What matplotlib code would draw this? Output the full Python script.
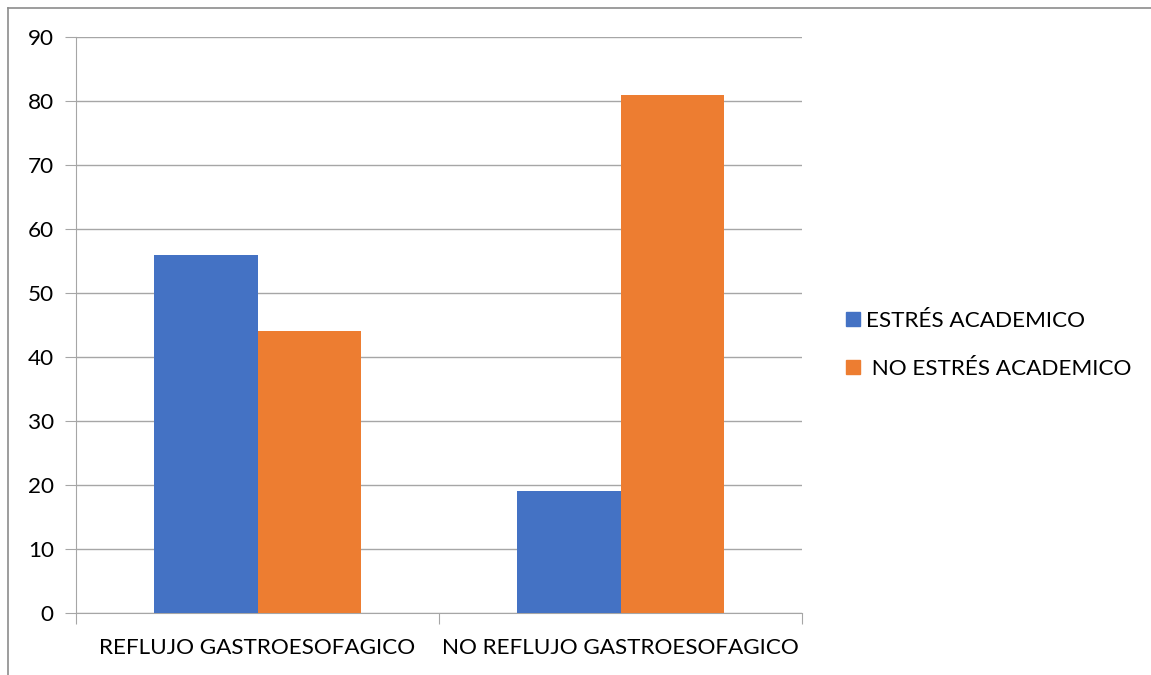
import numpy as np
import matplotlib.pyplot as plt
from matplotlib.lines import Line2D
from matplotlib.patches import Patch

plt.rcParams['font.family'] = ['Lato', 'DejaVu Sans']

# ==================== DATA ====================
categories = ['REFLUJO GASTROESOFAGICO', 'NO REFLUJO GASTROESOFAGICO']
series_names = ['ESTRÉS ACADEMICO', ' NO ESTRÉS ACADEMICO']
estres = [56, 19]
no_estres = [44, 81]
yticks = [0, 10, 20, 30, 40, 50, 60, 70, 80, 90]

BLUE = '#4472c4'
ORANGE = '#ed7d31'
GRID = '#a6a6a6'
FS = 16.2

# ==================== PLOT ====================
fig = plt.figure(figsize=(11.51, 6.75), dpi=100)
W, H = 1151, 675
ax = fig.add_axes([76 / W, 1 - 613 / H, (802 - 76) / W, (613 - 37) / H])

x = np.arange(len(categories))
width = 0.285
ax.bar(x - width / 2, estres, width, color=BLUE, zorder=3)
ax.bar(x + width / 2, no_estres, width, color=ORANGE, zorder=3)

ax.set_xlim(-0.5, len(categories) - 0.5)
ax.set_ylim(0, 90)
ax.set_yticks(yticks)
ax.tick_params(axis='y', length=8, color=GRID, labelsize=FS, pad=8)
ax.yaxis.grid(True, color=GRID, linewidth=1, zorder=0)

# category boundary ticks on the x axis, labels centered between
ax.set_xticks(np.arange(-0.5, len(categories)), labels=[''] * (len(categories) + 1))
ax.set_xticks(x, labels=categories, minor=True)
ax.tick_params(axis='x', which='major', length=8, color=GRID)
ax.tick_params(axis='x', which='minor', length=0, labelsize=FS, pad=18)

for side in ['top', 'right']:
    ax.spines[side].set_visible(False)
for side in ['left', 'bottom']:
    ax.spines[side].set_color(GRID)

handles = [Patch(color=BLUE), Patch(color=ORANGE)]
fig.legend(handles, series_names, loc='center left', bbox_to_anchor=(826 / W, 1 - 345 / H),
           frameon=False, fontsize=FS, handlelength=0.6, handleheight=0.6,
           handletextpad=0.3, labelspacing=1.25)

# outer frame (top and left edges visible)
fig.add_artist(Line2D([8 / W, 1], [1 - 8 / H, 1 - 8 / H], color='#8c8c8c', linewidth=1.2))
fig.add_artist(Line2D([8 / W, 8 / W], [0, 1 - 8 / H], color='#8c8c8c', linewidth=1.2))

fig.savefig('out.png', dpi=100)
